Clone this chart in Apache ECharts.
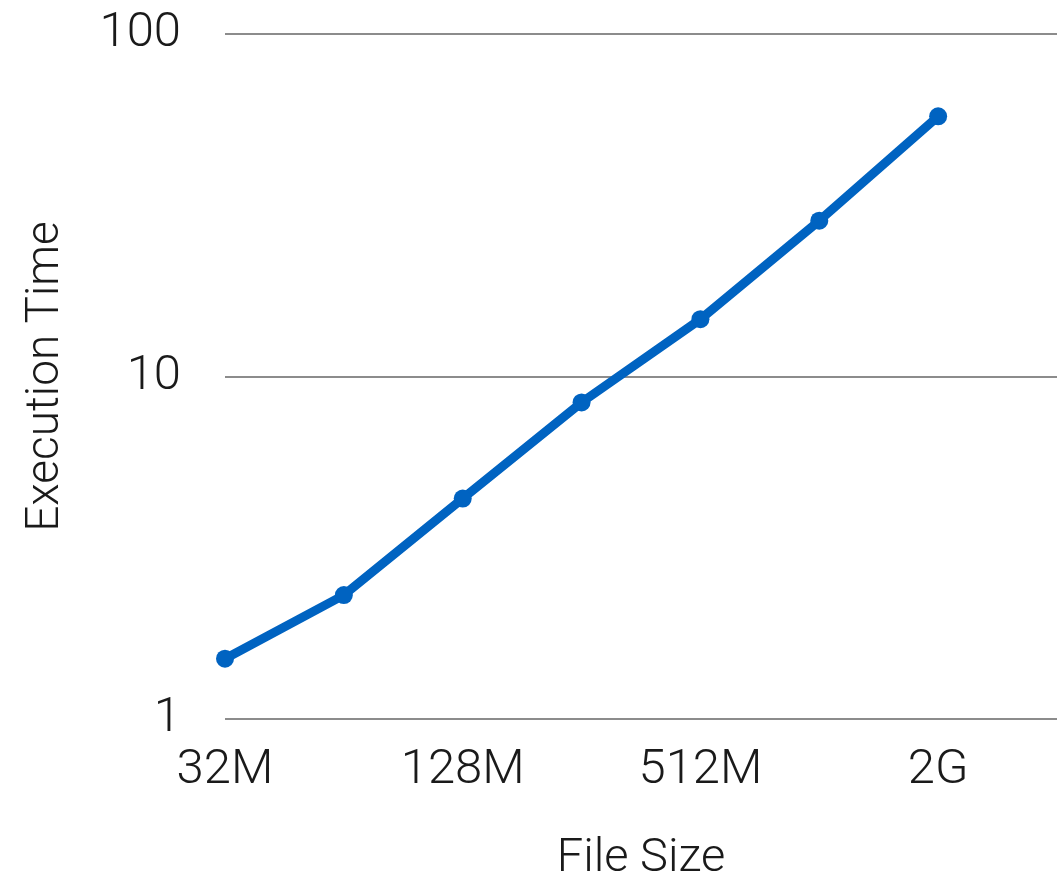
<!DOCTYPE html>
<html>
<head>
<meta charset="utf-8">
<script src="https://cdn.jsdelivr.net/npm/echarts@6/dist/echarts.min.js"></script>
<style>
  html, body { margin: 0; padding: 0; background: #fff; }
  #chart { width: 1064px; height: 874px; }
</style>
</head>
<body>
<div id="chart"></div>
<script>
// File sizes on the x axis (the last slot has no measurement)
const fileSizes = ['32M', '64M', '128M', '256M', '512M', '1G', '2G', '4G'];
// Execution time per file size
const executionTimes = [1.5, 2.3, 4.4, 8.4, 14.7, 28.5, 57.5, null];
// Y axis range (log scale)
const yMin = 1;
const yMax = 100;

const textColor = '#1a1a1a';
const fontFamily = 'Roboto';

const chart = echarts.init(document.getElementById('chart'), null, { renderer: 'canvas' });
chart.setOption({
  backgroundColor: '#ffffff',
  animation: false,
  grid: { left: 225, right: 7, top: 34, bottom: 155, containLabel: false, outerBoundsMode: 'none' },
  xAxis: {
    type: 'category',
    data: fileSizes,
    boundaryGap: false,
    name: 'File Size',
    nameLocation: 'middle',
    nameGap: 117,
    nameTextStyle: { fontFamily, fontWeight: 300, fontSize: 47, color: textColor },
    axisLine: { show: false },
    axisTick: { show: false },
    axisLabel: {
      interval: 1,
      margin: 27,
      fontFamily, fontWeight: 300, fontSize: 49, color: textColor
    },
    splitLine: { show: false }
  },
  yAxis: {
    type: 'log',
    logBase: 10,
    min: yMin,
    max: yMax,
    name: 'Execution Time',
    nameLocation: 'middle',
    nameGap: 156,
    nameTextStyle: { fontFamily, fontWeight: 300, fontSize: 46, color: textColor },
    axisLine: { show: false },
    axisTick: { show: false },
    axisLabel: {
      margin: 44,
      padding: [6, 0, 0, 0],
      fontFamily, fontWeight: 300, fontSize: 49, color: textColor
    },
    splitLine: { show: true, lineStyle: { color: '#8c8c8c', width: 2 } }
  },
  series: [{
    type: 'line',
    data: executionTimes,
    symbol: 'circle',
    symbolSize: 18,
    showSymbol: true,
    lineStyle: { color: '#0063c1', width: 9 },
    itemStyle: { color: '#0063c1' },
    connectNulls: false
  }]
});
</script>
</body>
</html>
